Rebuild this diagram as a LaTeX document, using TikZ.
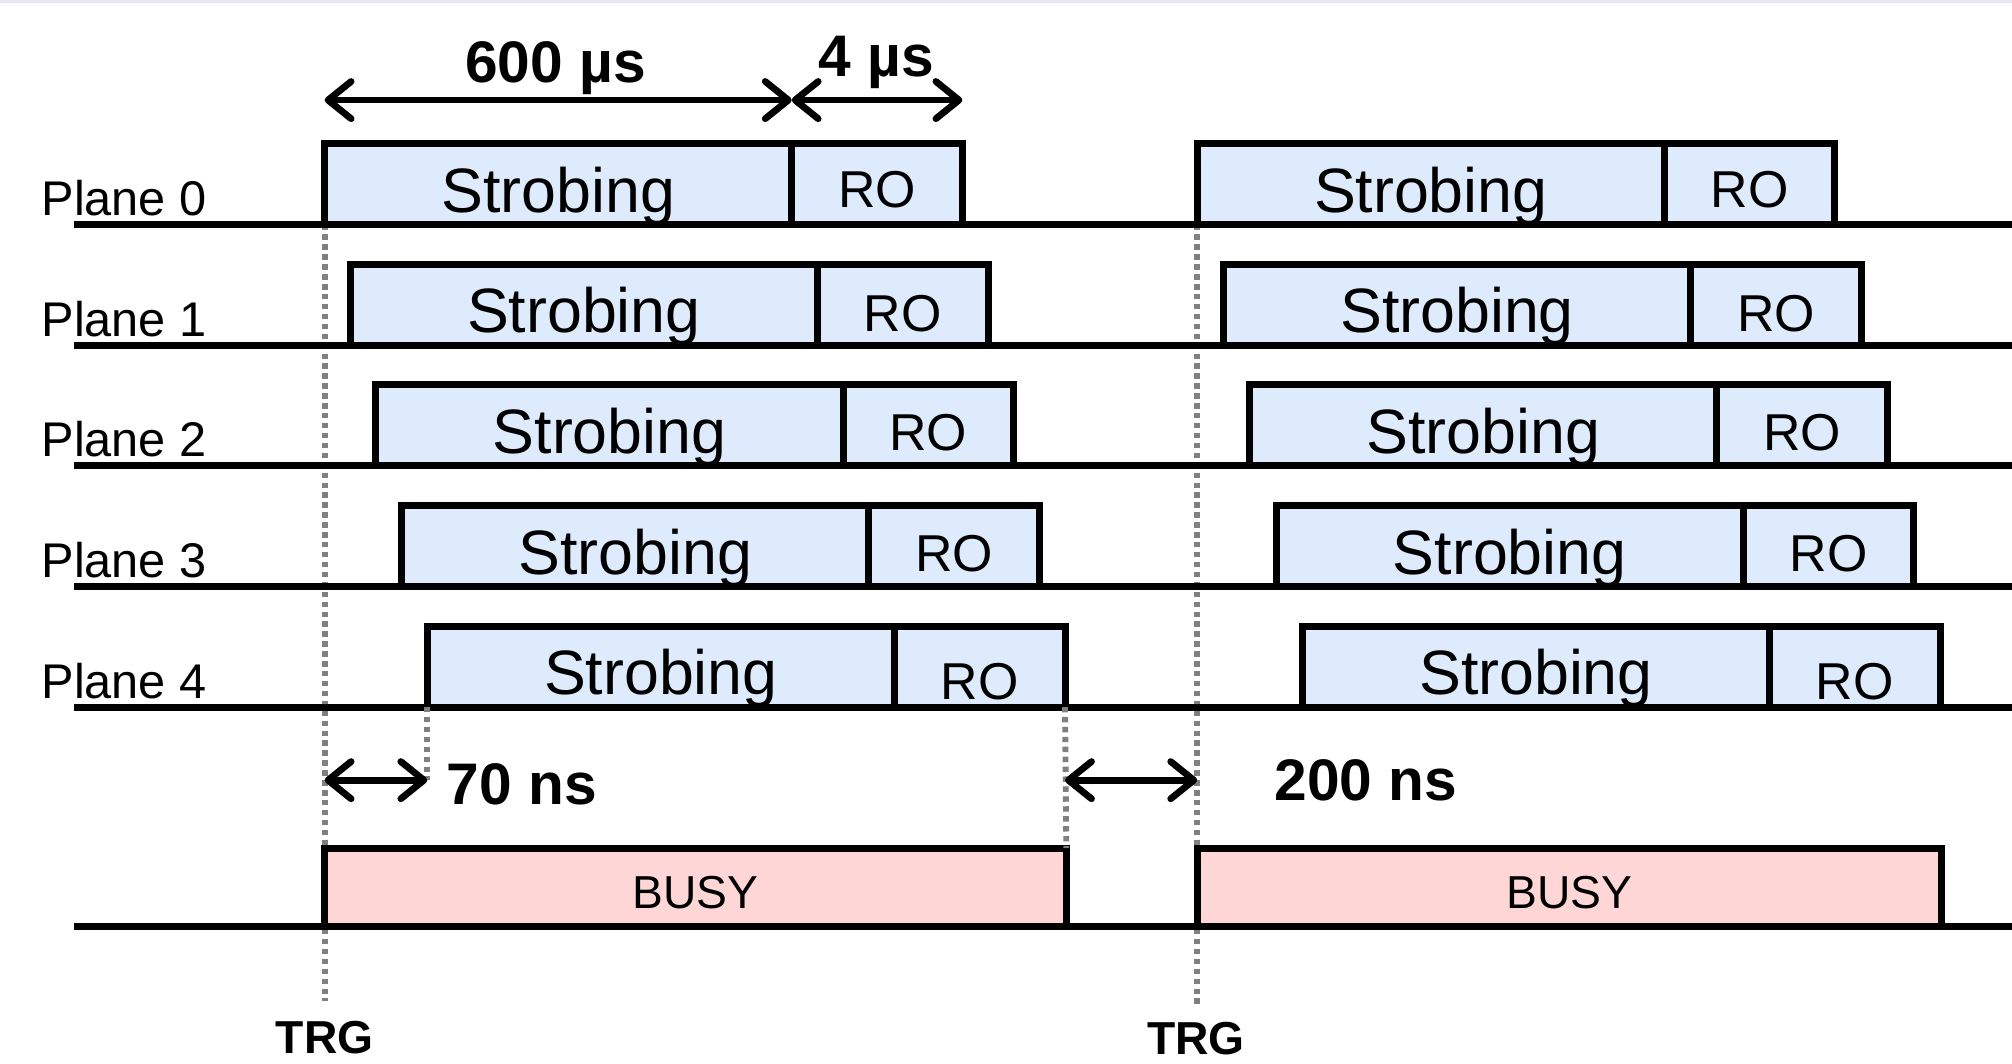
\documentclass[tikz,border=0pt]{standalone}
\usepackage{fontspec}
\setmainfont{Liberation Sans}
\usetikzlibrary{arrows.meta}

\definecolor{strobefill}{RGB}{221,235,252}
\definecolor{busyfill}{RGB}{255,214,214}
\definecolor{trggray}{RGB}{128,128,128}
\definecolor{edgeline}{RGB}{230,230,245}

\begin{document}
\begin{tikzpicture}
  [x=0.2mm, y=-0.2mm,
   frame/.style={draw, line width=3.1pt, inner sep=0pt, outer sep=0pt,
     anchor=south west, minimum height=63*0.2mm},
   strobe box/.style={frame, fill=strobefill, minimum width=364*0.2mm},
   ro box/.style={frame, fill=strobefill, minimum width=133*0.2mm},
   busy box/.style={frame, fill=busyfill, minimum height=61*0.2mm,
     minimum width=578*0.2mm},
   level/.style={line width=3.1pt},
   trg line/.style={trggray, line width=2.6pt, dash pattern=on 2.4pt off 2pt},
   span/.style={{Straight Barb[length=3.6mm,width=5.8mm,round]}-{Straight Barb[length=3.6mm,width=5.8mm,round]},
     line width=3pt, line cap=round},
   box text/.style={inner sep=0pt, anchor=base},
   strobe text/.style={box text, font=\fontsize{27.8pt}{30pt}\selectfont},
   ro text/.style={box text, font=\fontsize{23pt}{26pt}\selectfont},
   busy text/.style={box text, font=\fontsize{20.5pt}{24pt}\selectfont},
   plane label/.style={inner sep=0pt, anchor=base west,
     font=\fontsize{21.6pt}{24pt}\selectfont},
   time label/.style={inner sep=0pt, font=\fontsize{26pt}{30pt}\selectfont\bfseries},
   trg label/.style={inner sep=0pt, anchor=base, font=\fontsize{20.5pt}{24pt}\selectfont\bfseries}]

  \useasboundingbox (0,0) rectangle (1568,829);
  \fill[edgeline] (0,0) rectangle (1568,2);

  % trigger markers (under the levels)
  \coordinate (ta) at (253,780);
  \coordinate (tb) at (933,785);
  \coordinate (m70) at (0,608);
  \draw[trg line] (253,175) -- (ta);
  \draw[trg line] (933,175) -- (tb);

  % one level per plane, two trigger cycles
  \foreach \i/\ro in {0/13,1/11,2/12,3/12,4/6} {
    \pgfmathsetmacro\yb{175+94*\i}
    \pgfmathsetmacro\xa{253+20*\i}
    \pgfmathsetmacro\xb{933+20.5*\i}
    \coordinate (l\i) at (58,\yb);
    \coordinate (r\i) at (1568,\yb);
    \draw[level] (l\i) -- (r\i);
    \node[strobe box] (sa\i) at (\xa,\yb) {};
    \node[ro box] (ra\i) at (sa\i.south east) {};
    \node[strobe box] (sb\i) at (\xb,\yb) {};
    \node[ro box] (rb\i) at (sb\i.south east) {};
    \node[strobe text] (sta\i) at ([yshift=1.9mm]sa\i.south) {Strobing};
    \node[strobe text] (stb\i) at ([yshift=1.9mm]sb\i.south) {Strobing};
    \node[ro text] (rta\i) at ([yshift=\ro*0.2mm]ra\i.south) {RO};
    \node[ro text] (rtb\i) at ([yshift=\ro*0.2mm]rb\i.south) {RO};
    \node[plane label] (p\i) at (32,\yb-7) {Plane \i};
  }

  % busy line
  \coordinate (lb) at (58,722);
  \coordinate (rb) at (1568,722);
  \draw[level] (lb) -- (rb);
  \node[busy box] (ba) at (253,722) {};
  \node[busy box, minimum width=580*0.2mm] (bb) at (933,722) {};
  \node[busy text] (bta) at ([yshift=2.8mm]ba.south) {BUSY};
  \node[busy text] (btb) at ([yshift=2.8mm]bb.south) {BUSY};

  \draw[trg line] (sa4.south west) -- (sa4.south west |- m70);
  \draw[trg line] (ra4.south east) -- (ba.north east);

  % durations
  \draw[span] ([yshift=6.8mm]sa0.north west) -- ([yshift=6.8mm]ra0.north west);
  \draw[span] ([yshift=6.8mm]ra0.north west) -- ([yshift=6.8mm]ra0.north east);
  \node[time label, anchor=base] (t600) at (433,64) {600 µs};
  \node[time label, anchor=base] (t4) at (683,60) {4 µs};

  \draw[span] (sa0.south west |- m70) -- (sa4.south west |- m70);
  \draw[span] (ra4.south east |- m70) -- (sb0.south west |- m70);
  \node[time label, anchor=base west] (t70) at (348,627) {70 ns};
  \node[time label, anchor=base west] (t200) at (993,624) {200 ns};

  \node[trg label] (trga) at (253,821) {TRG};
  \node[trg label] (trgb) at (932,822) {TRG};

\end{tikzpicture}
\end{document}
